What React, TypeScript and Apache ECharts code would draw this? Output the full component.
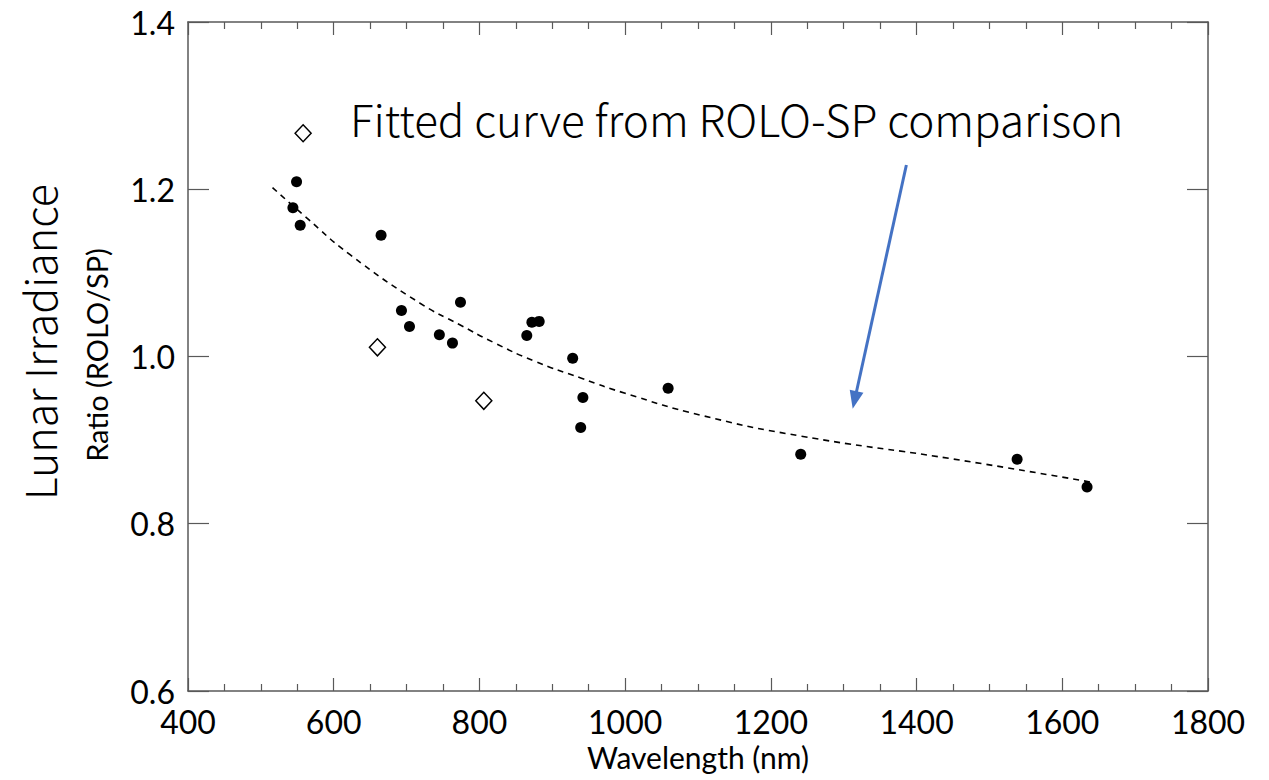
import React, { useEffect, useRef } from "react";
import * as echarts from "echarts";

const circleX = [549, 544, 554, 665, 693, 704, 774, 745, 763, 865, 872, 882, 928, 942, 939, 1059, 1241, 1538, 1634];
const circleY = [1.209, 1.178, 1.157, 1.145, 1.055, 1.036, 1.065, 1.026, 1.016, 1.025, 1.041, 1.042, 0.998, 0.951, 0.915, 0.962, 0.883, 0.877, 0.844];

const diamondX = [558, 660, 806];
const diamondY = [1.267, 1.011, 0.947];

const curveX = [516, 560, 622, 718, 773, 819, 874, 940, 1000, 1103, 1240, 1446, 1638];
const curveY = [1.202, 1.168, 1.122, 1.064, 1.038, 1.017, 0.995, 0.974, 0.956, 0.93, 0.905, 0.878, 0.85];

const xTicks = [400, 600, 800, 1000, 1200, 1400, 1600, 1800];
const yTicks = [0.6, 0.8, 1.0, 1.2, 1.4];

const arrowFrom = [1386, 1.229];
const arrowTo = [1315, 0.948];

const annotation = "Fitted curve from ROLO-SP comparison";
const xTitle = "Wavelength (nm)";
const yTitle1 = "Lunar Irradiance";
const yTitle2 = "Ratio (ROLO/SP)";

const AXIS = "#595959";
const FONT = "Lato, 'Noto Sans', sans-serif";
const THIN = "'Noto Sans CJK JP', 'Noto Sans', sans-serif";

export default function App() {
  const ref = useRef<HTMLDivElement>(null);
  useEffect(() => {
    if (!ref.current) return;
    const chart = echarts.init(ref.current, undefined, { renderer: "svg" });
    const xmin = xTicks[0];
    const xmax = xTicks[xTicks.length - 1];
    const ymin = yTicks[0];
    const ymax = yTicks[yTicks.length - 1];
    const baseX = {
      type: "value",
      min: xmin,
      max: xmax,
      interval: 200,
      splitLine: { show: false },
      axisLine: { show: true, onZero: false, lineStyle: { color: AXIS, width: 1.5 } },
      axisTick: { show: true, inside: true, length: 13, lineStyle: { color: AXIS, width: 1.2 } },
      minorTick: { show: true, splitNumber: 4, length: 7, lineStyle: { color: AXIS, width: 1.2 } },
      minorSplitLine: { show: false },
    };
    const baseY = {
      type: "value",
      min: ymin,
      max: ymax,
      interval: 0.2,
      splitLine: { show: false },
      axisLine: { show: true, onZero: false, lineStyle: { color: AXIS, width: 1.5 } },
      axisTick: { show: true, inside: true, length: 21, lineStyle: { color: AXIS, width: 1.2 } },
    };
    chart.setOption({
      animation: false,
      backgroundColor: "#ffffff",
      grid: {
        left: 188,
        right: 61,
        top: 22,
        bottom: 89,
        containLabel: false,
        outerBoundsMode: "none",
      },
      xAxis: [
        {
          ...baseX,
          position: "bottom",
          name: xTitle,
          nameLocation: "middle",
          nameGap: 51,
          nameTextStyle: { fontSize: 30, color: "#000", fontFamily: FONT },
          axisLabel: {
            show: true,
            fontSize: 32,
            color: "#000",
            fontFamily: FONT,
            margin: 14,
            formatter: (v: number) => String(v),
          },
        },
        { ...baseX, position: "top", axisLabel: { show: false } },
      ],
      yAxis: [
        {
          ...baseY,
          position: "left",
          axisLabel: {
            show: true,
            fontSize: 32,
            color: "#000",
            fontFamily: FONT,
            margin: 13,
            formatter: (v: number) => v.toFixed(1),
          },
        },
        { ...baseY, position: "right", axisLabel: { show: false } },
      ],
      series: [
        {
          type: "line",
          data: curveX.map((x, i) => [x, curveY[i]]),
          smooth: 0.5,
          showSymbol: false,
          symbol: "none",
          lineStyle: { color: "#000", width: 1.6, type: [6, 5] },
          silent: true,
          z: 2,
          markLine: {
            silent: true,
            symbol: ["none", "triangle"],
            symbolSize: [14, 18],
            label: { show: false },
            lineStyle: { color: "#4472C4", width: 3, type: "solid" },
            data: [[{ coord: arrowFrom }, { coord: arrowTo }]],
          },
        },
        {
          type: "scatter",
          data: circleX.map((x, i) => [x, circleY[i]]),
          symbol: "circle",
          symbolSize: 11,
          itemStyle: { color: "#000", opacity: 1 },
          z: 3,
        },
        {
          type: "scatter",
          data: diamondX.map((x, i) => [x, diamondY[i]]),
          symbol: "diamond",
          symbolSize: [16, 17],
          itemStyle: { color: "#fff", borderColor: "#000", borderWidth: 1.5, opacity: 1 },
          z: 3,
        },
      ],
      graphic: [
        {
          type: "text",
          left: 350,
          top: 96,
          style: { text: annotation, fontSize: 44, fontWeight: 300, fill: "#000", fontFamily: THIN },
        },
        {
          type: "text",
          x: 38,
          y: 342,
          rotation: Math.PI / 2,
          style: {
            text: yTitle1,
            fontSize: 43,
            fontWeight: 300,
            fill: "#000",
            fontFamily: THIN,
            align: "center",
            verticalAlign: "middle",
          },
        },
        {
          type: "text",
          x: 96,
          y: 355,
          rotation: Math.PI / 2,
          style: {
            text: yTitle2,
            fontSize: 29,
            fill: "#000",
            fontFamily: FONT,
            align: "center",
            verticalAlign: "middle",
          },
        },
      ],
    });
    return () => chart.dispose();
  }, []);
  return (
    <div
      ref={ref}
      style={{ position: "fixed", left: 0, top: 0, width: 1269, height: 780, background: "#fff" }}
    />
  );
}
